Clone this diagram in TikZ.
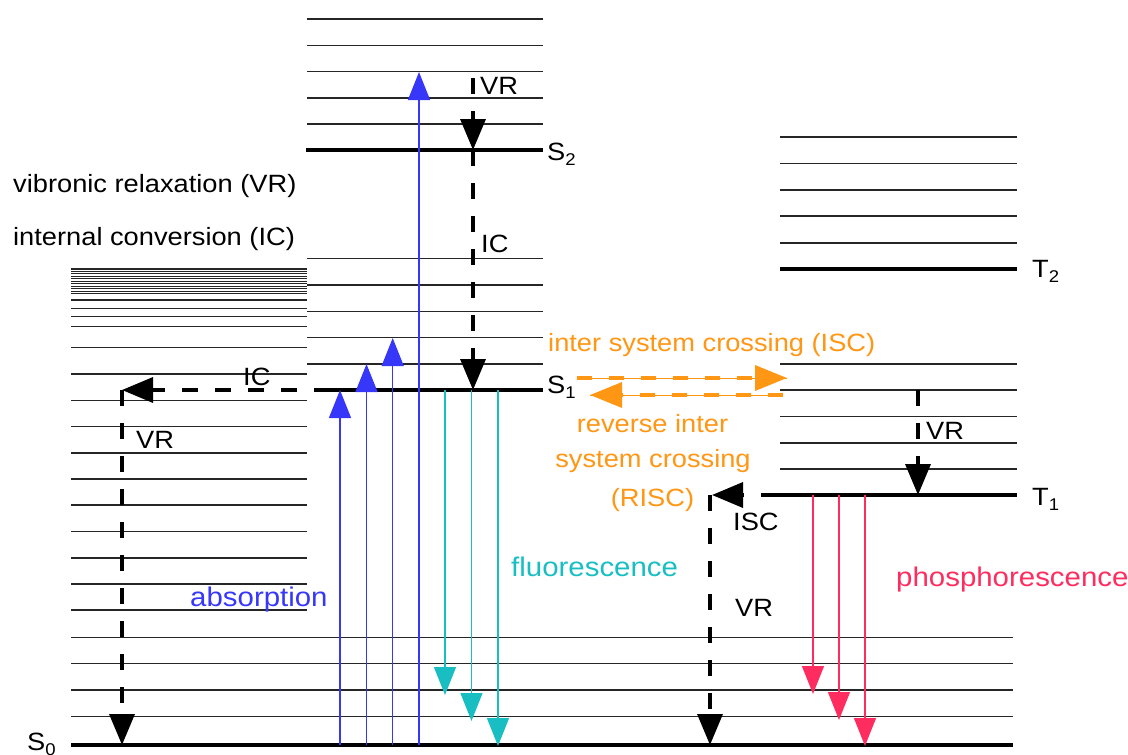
\documentclass[tikz,border=0pt]{standalone}
\usepackage{fontspec}
\setmainfont{Liberation Sans}[FakeStretch=1.09]
\usetikzlibrary{arrows.meta}
\definecolor{absblue}{RGB}{55,55,250}
\definecolor{flcyan}{RGB}{25,190,195}
\definecolor{phpink}{RGB}{255,45,95}
\definecolor{iscorange}{RGB}{255,150,20}
\newcommand\lsub[1]{\raisebox{-5pt}{\fontsize{17}{17}\selectfont #1}}
\tikzset{
  lvl/.style={line width=1.1pt, black!85},
  lvlthick/.style={line width=3.8pt, black},
  procdash/.style={line width=3.5pt, dash pattern=on 16pt off 17pt, -{Triangle[length=31pt,width=25pt]}},
  orangedash/.style={line width=3.5pt, iscorange, dash pattern=on 15pt off 17pt, -{Triangle[length=32pt,width=25pt]}},
  orangethin/.style={line width=1pt, iscorange},
  radiative/.style={line width=1.4pt, -{Triangle[length=28pt,width=22pt]}},
  lbl/.style={font=\fontsize{25}{30}\selectfont, inner sep=0pt, anchor=base west},
  biglbl/.style={font=\fontsize{27}{32}\selectfont, inner sep=0pt, anchor=base west},
  clbl/.style={font=\fontsize{25}{30}\selectfont, inner sep=0pt, anchor=base},
}
\begin{document}
\begin{tikzpicture}[x=1pt,y=-1pt]
\useasboundingbox (0,0) rectangle (1128,755);

% ---------- vibrational levels (thin) ----------
\foreach \y in {19,45.7,71.7,98,124}
  \draw[lvl] (307,\y) -- (543,\y);
\foreach \y in {258.3,285,311.7,337.7,364}
  \draw[lvl] (307,\y) -- (543,\y);
\foreach \y in {137,163.5,190,216,243}
  \draw[lvl] (780,\y) -- (1017,\y);
\foreach \y in {364,390,416.5,443,469}
  \draw[lvl] (780,\y) -- (1017,\y);
\foreach \y in {269,271.45,273.9,276.35,278.8,281.25,283.7,286.15,288.6,291.05,293.5,300,308.3,316.5,326.3,347.7,374,400.5,426.7,453,479,505,531.5,558,584,610}
  \draw[lvl] (71,\y) -- (307,\y);
\foreach \y in {637.5,663.5,690,716.5}
  \draw[lvl] (71,\y) -- (1013,\y);

% ---------- electronic levels (thick) ----------
\coordinate (S2l) at (306,150); \coordinate (S2r) at (543,150);
\coordinate (S1l) at (330,390); \coordinate (S1r) at (543,390);
\coordinate (T2l) at (780,269); \coordinate (T2r) at (1017,269);
\coordinate (T1l) at (777,495); \coordinate (T1r) at (1017,495);
\coordinate (S0l) at (71,745);  \coordinate (S0r) at (1013,745);
\draw[lvlthick] (S2l) -- (S2r);
\draw[lvlthick] (S1l) -- (S1r);
\draw[lvlthick] (T2l) -- (T2r);
\draw[lvlthick] (T1l) -- (T1r);
\draw[lvlthick] (S0l) -- (S0r);

% ---------- level labels ----------
\node[lbl] (S2lab) at (547,160) {S\lsub{2}};
\node[lbl] (S1lab) at (547,393) {S\lsub{1}};
\node[lbl] (S0lab) at (27,750) {S\lsub{0}};
\node[lbl] (T2lab) at (1032,277) {T\lsub{2}};
\node[lbl] (T1lab) at (1032,505) {T\lsub{1}};

% ---------- legend text ----------
\node[lbl] (vibtxt) at (13,192) {vibronic relaxation (VR)};
\node[lbl] (inttxt) at (13,245) {internal conversion (IC)};

% ---------- non-radiative processes ----------
\coordinate (vrS2a) at (473,78);  \coordinate (vrS2b) at (473,150);
\draw[procdash] (vrS2a) -- (vrS2b);
\node[lbl] (vrS2lab) at (480,94) {VR};

\coordinate (icA) at (473,150); \coordinate (icB) at (473,390);
\draw[procdash] (icA) -- (icB);
\node[lbl] (icMlab) at (481,252) {IC};

\coordinate (icL) at (122,390);
\draw[procdash] (S1l) -- (icL);
\node[lbl] (icLlab) at (243,385) {IC};

\coordinate (vrLb) at (122,745);
\draw[procdash] (icL) -- (vrLb);
\node[lbl] (vrLlab) at (136,448) {VR};

\coordinate (vrTa) at (918,390); \coordinate (vrTb) at (918,495);
\draw[procdash] (vrTa) -- (vrTb);
\node[lbl] (vrTlab) at (926,439) {VR};

\coordinate (iscE) at (712,495);
\draw[procdash] (T1l) -- (iscE);
\node[lbl] (iscLab) at (733,530) {ISC};

\coordinate (vrBa) at (710,495); \coordinate (vrBb) at (710,745);
\draw[procdash] (vrBa) -- (vrBb);
\node[lbl] (vrBlab) at (735,616) {VR};

% ---------- ISC / RISC (orange) ----------
\coordinate (iscA) at (577,378); \coordinate (iscB) at (787,378);
\coordinate (riscA) at (783,395); \coordinate (riscB) at (590,395);
\draw[orangethin] (iscA) -- (iscB);
\draw[orangethin] (riscA) -- (riscB);
\draw[orangedash] (iscA) -- (iscB);
\draw[orangedash] (riscA) -- (riscB);
\node[lbl, text=iscorange] (isctxt) at (548,351) {inter system crossing (ISC)};
\node[clbl, text=iscorange] (risc1) at (652.5,432) {reverse inter};
\node[clbl, text=iscorange] (risc2) at (653,467) {system crossing};
\node[clbl, text=iscorange] (risc3) at (652.5,506) {(RISC)};

% ---------- absorption (blue) ----------
\coordinate (a1s) at (340,745);   \coordinate (a1e) at (340,390);
\coordinate (a2s) at (366.5,745); \coordinate (a2e) at (366.5,364);
\coordinate (a3s) at (392.7,745); \coordinate (a3e) at (392.7,338);
\coordinate (a4s) at (419,745);   \coordinate (a4e) at (419,72);
\foreach \i in {1,2,3,4}
  \draw[radiative, absblue] (a\i s) -- (a\i e);
\node[biglbl, text=absblue] (abstxt) at (190,606) {absorption};

% ---------- fluorescence (cyan) ----------
\coordinate (f1s) at (445,390);   \coordinate (f1e) at (445,695);
\coordinate (f2s) at (471.5,390); \coordinate (f2e) at (471.5,721);
\coordinate (f3s) at (498,390);   \coordinate (f3e) at (498,746);
\foreach \i in {1,2,3}
  \draw[radiative, flcyan] (f\i s) -- (f\i e);
\node[biglbl, text=flcyan] (fltxt) at (511,576) {fluorescence};

% ---------- phosphorescence (pink) ----------
\coordinate (p1s) at (813,495); \coordinate (p1e) at (813,694);
\coordinate (p2s) at (839,495); \coordinate (p2e) at (839,720);
\coordinate (p3s) at (865,495); \coordinate (p3e) at (865,746);
\foreach \i in {1,2,3}
  \draw[radiative, phpink] (p\i s) -- (p\i e);
\node[biglbl, text=phpink] (phtxt) at (896,586) {phosphorescence};

\end{tikzpicture}
\end{document}
